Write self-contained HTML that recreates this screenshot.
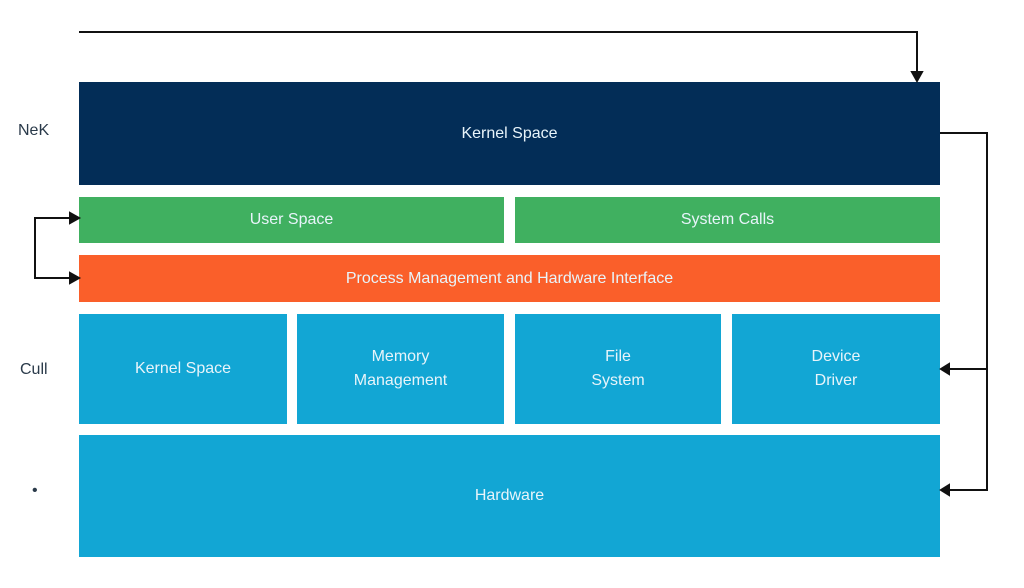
<!DOCTYPE html>
<html><head><style>
body{margin:0;width:1024px;height:588px;background:#fff;position:relative;font-family:"Liberation Sans",sans-serif;overflow:hidden}
.b{position:absolute;color:#e8f4fa;font-size:16px;display:flex;align-items:center;justify-content:center;text-align:center;line-height:24px}
.l{position:absolute;color:#2a3a4a;font-size:16px}
</style></head><body>
<div class="b" style="left:79px;top:82px;width:861px;height:103px;background:#032d57">Kernel Space</div>
<div class="b" style="left:79px;top:197px;width:425px;height:46px;background:#40b060">User Space</div>
<div class="b" style="left:515px;top:197px;width:425px;height:46px;background:#40b060">System Calls</div>
<div class="b" style="left:79px;top:255px;width:861px;height:47px;background:#fa5f2a">Process Management and Hardware Interface</div>
<div class="b" style="left:79px;top:314px;width:208px;height:110px;background:#12a6d4">Kernel Space</div>
<div class="b" style="left:297px;top:314px;width:207px;height:110px;background:#12a6d4">Memory<br>Management</div>
<div class="b" style="left:515px;top:314px;width:206px;height:110px;background:#12a6d4">File<br>System</div>
<div class="b" style="left:732px;top:314px;width:208px;height:110px;background:#12a6d4">Device<br>Driver</div>
<div class="b" style="left:79px;top:435px;width:861px;height:122px;background:#12a6d4">Hardware</div>
<div class="l" style="left:18px;top:122px">NeK</div>
<div class="l" style="left:20px;top:361px">Cull</div>
<div class="l" style="left:32px;top:482px">•</div>
<svg width="1024" height="588" style="position:absolute;left:0;top:0" fill="none" stroke="#111" stroke-width="2">
<polyline points="79,32 917,32 917,74"/>
<polygon points="912,72 922,72 917,81" fill="#111"/>
<polyline points="940,133 987,133 987,490 948,490"/>
<line x1="987" y1="369" x2="948" y2="369"/>
<polygon points="949,364 949,374 941,369" fill="#111"/>
<polygon points="949,485 949,495 941,490" fill="#111"/>
<polyline points="72,218 35,218 35,278 72,278"/>
<polygon points="70,213 70,223 79,218" fill="#111"/>
<polygon points="70,273 70,283 79,278" fill="#111"/>
</svg>
</body></html>
